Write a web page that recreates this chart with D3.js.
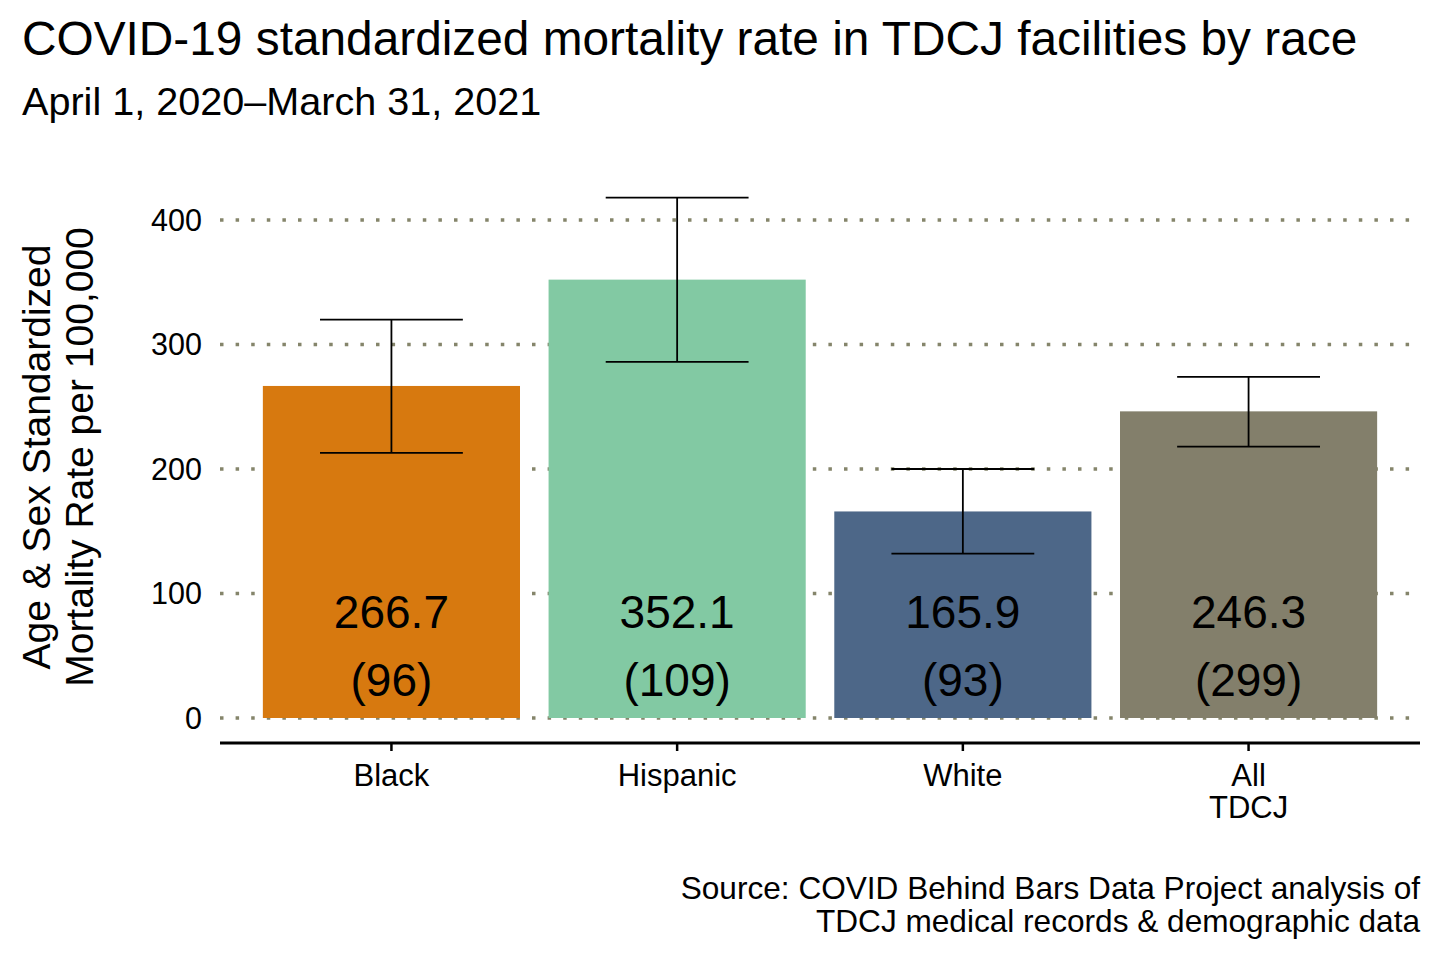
<!DOCTYPE html>
<html>
<head>
<meta charset="utf-8">
<script src="https://cdn.jsdelivr.net/npm/d3@7"></script>
<style>
  html, body { margin: 0; padding: 0; background: #ffffff; }
  svg { display: block; font-family: "Liberation Sans", Arial, Helvetica, sans-serif; }
</style>
</head>
<body>
<svg id="chart" width="1440" height="960"></svg>
<script>
// ---- data ----
const categories = ["Black", "Hispanic", "White", "All\nTDCJ"];
const rates = [266.7, 352.1, 165.9, 246.3];
const deaths = [96, 109, 93, 299];
const ciLower = [213, 286, 132, 218];
const ciUpper = [320, 418, 200, 274];
const barColors = ["#D7790F", "#82C9A3", "#4D6788", "#837F6B"];
const yTicks = [0, 100, 200, 300, 400];

const titleText = "COVID-19 standardized mortality rate in TDCJ facilities by race";
const subtitleText = "April 1, 2020\u2013March 31, 2021";
const yTitleLines = ["Age & Sex Standardized", "Mortality Rate per 100,000"];
const sourceLines = ["Source: COVID Behind Bars Data Project analysis of", "TDCJ medical records & demographic data"];

// ---- layout ----
const svg = d3.select("#chart");
const plotLeft = 220, plotRight = 1420;
const plotTop = 220, plotBottom = 718;

const x = d3.scaleBand()
  .domain(categories)
  .range([plotLeft, plotRight])
  .paddingInner(0.1)
  .paddingOuter(0.15);

const step = x.step();
const y = d3.scaleLinear().domain([0, 400]).range([plotBottom, plotTop]);

const rows = categories.map((c, i) => ({
  cat: c, rate: rates[i], n: deaths[i], lo: ciLower[i], hi: ciUpper[i], color: barColors[i]
}));

// gridlines (dotted)
svg.append("g").selectAll("line")
  .data(yTicks).join("line")
  .attr("x1", plotLeft).attr("x2", plotRight)
  .attr("y1", d => y(d)).attr("y2", d => y(d))
  .attr("stroke", "#85856B")
  .attr("stroke-width", 3.5)
  .attr("stroke-dasharray", "3.5 12.1");

// y tick labels
svg.append("g").selectAll("text")
  .data(yTicks).join("text")
  .attr("x", 202)
  .attr("y", d => y(d))
  .attr("dy", "0.36em")
  .attr("text-anchor", "end")
  .attr("font-size", 30.5)
  .attr("fill", "#000")
  .text(d => d);

// bars
svg.append("g").selectAll("rect")
  .data(rows).join("rect")
  .attr("x", d => x(d.cat))
  .attr("width", x.bandwidth())
  .attr("y", d => y(d.rate))
  .attr("height", d => y(0) - y(d.rate))
  .attr("fill", d => d.color);

// error bars
const eb = svg.append("g").attr("stroke", "#000").attr("stroke-width", 1.8).attr("fill", "none");
const whisk = step * 0.25;
rows.forEach(d => {
  const cx = x(d.cat) + x.bandwidth() / 2;
  eb.append("line").attr("x1", cx).attr("x2", cx).attr("y1", y(d.lo)).attr("y2", y(d.hi));
  eb.append("line").attr("x1", cx - whisk).attr("x2", cx + whisk).attr("y1", y(d.lo)).attr("y2", y(d.lo));
  eb.append("line").attr("x1", cx - whisk).attr("x2", cx + whisk).attr("y1", y(d.hi)).attr("y2", y(d.hi));
});

// bar value labels
const lab = svg.append("g").attr("text-anchor", "middle").attr("font-size", 46).attr("fill", "#000");
rows.forEach(d => {
  const cx = x(d.cat) + x.bandwidth() / 2;
  lab.append("text").attr("x", cx).attr("y", 628).text(d.rate.toFixed(1));
  lab.append("text").attr("x", cx).attr("y", 696).text("(" + d.n + ")");
});

// x axis
svg.append("line")
  .attr("x1", plotLeft).attr("x2", plotRight)
  .attr("y1", 743).attr("y2", 743)
  .attr("stroke", "#000").attr("stroke-width", 3);
const xg = svg.append("g");
rows.forEach(d => {
  const cx = x(d.cat) + x.bandwidth() / 2;
  xg.append("line").attr("x1", cx).attr("x2", cx).attr("y1", 743).attr("y2", 751)
    .attr("stroke", "#000").attr("stroke-width", 2.5);
  const t = xg.append("text").attr("text-anchor", "middle").attr("font-size", 31).attr("fill", "#000");
  d.cat.split("\n").forEach((ln, k) => {
    t.append("tspan").attr("x", cx).attr("y", 786 + k * 32).text(ln);
  });
});

// y axis title
const yt = svg.append("g").attr("font-size", 39).attr("fill", "#000").attr("text-anchor", "middle");
yTitleLines.forEach((ln, k) => {
  const bx = 50 + k * 43;
  yt.append("text").attr("transform", `translate(${bx},457) rotate(-90)`).text(ln);
});

// title & subtitle
svg.append("text").attr("x", 22).attr("y", 55).attr("font-size", 47.8).attr("fill", "#000").text(titleText);
svg.append("text").attr("x", 22).attr("y", 115).attr("font-size", 39.6).attr("fill", "#000").text(subtitleText);

// source
const src = svg.append("g").attr("font-size", 31.6).attr("fill", "#000").attr("text-anchor", "end");
sourceLines.forEach((ln, k) => {
  src.append("text").attr("x", 1420).attr("y", 899 + k * 33).text(ln);
});
</script>
</body>
</html>
